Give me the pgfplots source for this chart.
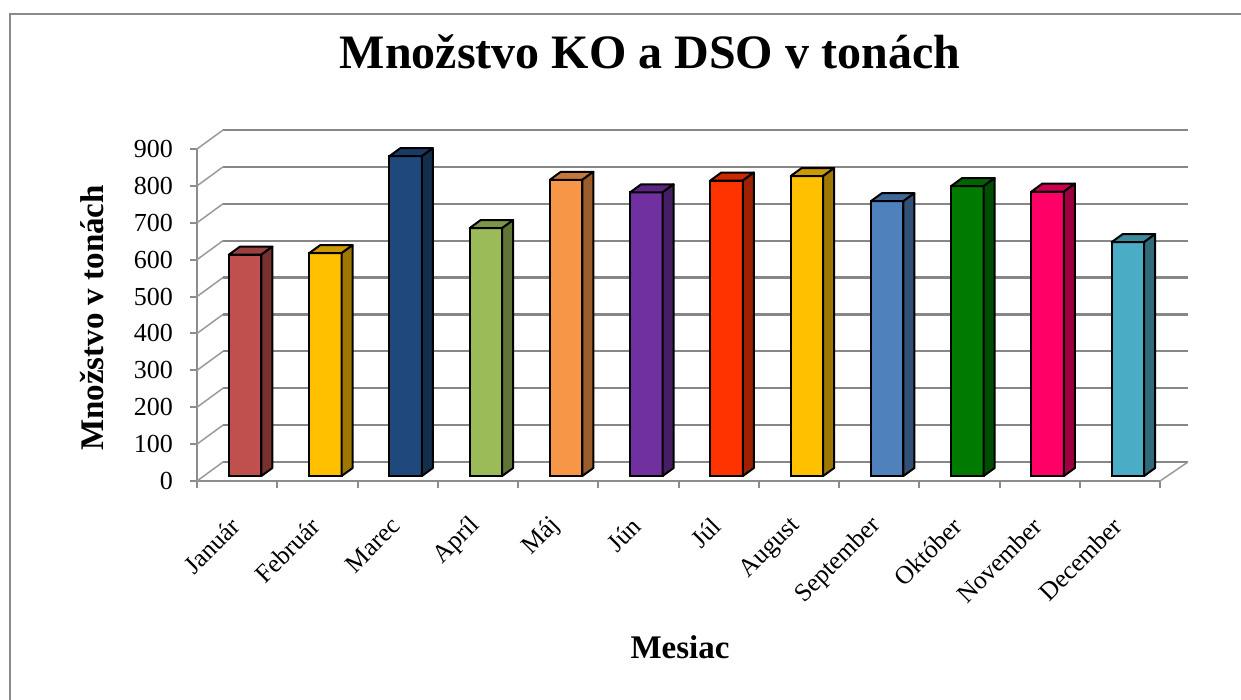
\documentclass[border=0pt]{standalone}
\usepackage{fontspec}
\setmainfont{Liberation Serif}
\usepackage{pgfplots}
\usepackage{pgfplotstable}
\pgfplotsset{compat=1.18}

\definecolor{axgray}{HTML}{8C8C8C}
\definecolor{gridgray}{HTML}{878787}
\definecolor{sidegray}{HTML}{9A9A9A}
\definecolor{framegray}{HTML}{8A8A8A}
\definecolor{cJan}{HTML}{C0504D}
\definecolor{cFeb}{HTML}{FFC000}
\definecolor{cMar}{HTML}{1F497D}
\definecolor{cApr}{HTML}{9BBB59}
\definecolor{cMaj}{HTML}{F79646}
\definecolor{cJun}{HTML}{7030A0}
\definecolor{cJul}{HTML}{FF3300}
\definecolor{cAug}{HTML}{FFC000}
\definecolor{cSep}{HTML}{4F81BD}
\definecolor{cOkt}{HTML}{007A00}
\definecolor{cNov}{HTML}{FF0066}
\definecolor{cDec}{HTML}{4BACC6}

% month (bar centre, 0.5 ... 11.5) and amount in tonnes
\pgfplotstableread{
x     y
0.5   600
1.5   604
2.5   867
3.5   672
4.5   803
5.5   769
6.5   801
7.5   813
8.5   745
9.5   786
10.5  771
11.5  634
}\datatable

% top and side faces of a 3D bar; origin = top centre of the front face
\pgfdeclareplotmark{box3d}{%
  \colorlet{barc}{.}%
  \pgfkeys{/pgf/fpu=true,/pgf/fpu/output format=fixed}%
  \pgfmathparse{\h*332/900}\let\barh\pgfmathresult
  \pgfkeys{/pgf/fpu=false}%
  \pgfsetlinewidth{2pt}\pgfsetroundjoin
  \pgfsetstrokecolor{black}%
  \pgfsetfillcolor{barc!80!black}%
  \pgfpathmoveto{\pgfqpoint{-16.25pt}{0pt}}%
  \pgfpathlineto{\pgfqpoint{-5.25pt}{8pt}}%
  \pgfpathlineto{\pgfqpoint{27.25pt}{8pt}}%
  \pgfpathlineto{\pgfqpoint{16.25pt}{0pt}}%
  \pgfpathclose
  \pgfusepath{fill,stroke}%
  \pgfsetfillcolor{barc!62!black}%
  \pgfpathmoveto{\pgfqpoint{16.25pt}{0pt}}%
  \pgfpathlineto{\pgfqpoint{27.25pt}{8pt}}%
  \pgfpathlineto{\pgfpoint{27.25pt}{8pt-\barh*1pt}}%
  \pgfpathlineto{\pgfpoint{16.25pt}{-\barh*1pt}}%
  \pgfpathclose
  \pgfusepath{fill,stroke}%
}

\pgfplotsset{
  bar3d/.style n args={2}{ybar, bar width=32.5pt, bar shift=0pt,
    fill=#1, draw=black, line width=2pt,
    restrict expr to domain={\coordindex}{#2:#2},
    scatter, scatter/@pre marker code/.code={}, scatter/@post marker code/.code={},
    mark=box3d, mark options={color=#1, solid},
    visualization depends on={y\as\h}},
}

\begin{document}
\begin{tikzpicture}
\useasboundingbox (0,0) rectangle (1241pt,700pt);
\draw[framegray, line width=2.5pt] (10pt,0pt) -- (10pt,686pt) -- (1241pt,686pt);

% back wall
\begin{axis}[at={(223pt,238pt)}, anchor=south west, scale only axis,
  width=965pt, height=332pt, xmin=0, xmax=12, ymin=0, ymax=900,
  ymajorgrids, ytick={0,100,...,900}, xtick=\empty, yticklabels={},
  major tick length=0pt, axis line style={draw=none},
  grid style={draw=gridgray, line width=2.2pt}]
\end{axis}

% front frame: axes, ticks, labels
\begin{axis}[at={(197pt,219pt)}, anchor=south west, scale only axis,
  width=963pt, height=332pt, xmin=0, xmax=12, ymin=0, ymax=900, clip=false,
  axis x line*=bottom, axis y line*=left,
  axis line style={draw=axgray, line width=2pt, -},
  xtick={0,...,12}, x tick label as interval,
  xticklabels={Január,Február,Marec,Apríl,Máj,Jún,Júl,August,September,Október,November,December},
  ytick={0,100,...,900},
  tick align=outside, major tick length=7pt,
  tick style={draw=axgray, line width=2pt},
  /pgf/number format/assume math mode=true,
  yticklabel style={font=\fontsize{26}{26}\selectfont, inner sep=0pt, xshift=-17pt},
  xticklabel style={font=\fontsize{25.5}{25.5}\selectfont, xshift=-2pt, yshift=-34pt, rotate=45, anchor=east, inner sep=0pt},
  title={Množstvo KO a DSO v tonách},
  title style={font=\bfseries\fontsize{48}{48}\selectfont, at={(axis description cs:0.4704,1.2244)}, anchor=base},
  ylabel={Množstvo v tonách},
  every axis y label/.style={font=\bfseries\fontsize{33}{33}\selectfont, at={(axis description cs:-0.0973,0.491)}, rotate=90, anchor=base},
  xlabel={Mesiac},
  every axis x label/.style={font=\bfseries\fontsize{33}{33}\selectfont, at={(axis description cs:0.5016,-0.536)}, anchor=base},
]
\pgfplotsinvokeforeach{0,100,...,900}{\draw[sidegray, line width=1.5pt] (axis cs:0,#1) -- ++(26pt,19pt);}
\draw[sidegray, line width=1.5pt] (axis cs:12,0) -- ++(28pt,19pt);
\end{axis}

% bars (front-face plane)
\begin{axis}[at={(205pt,224pt)}, anchor=south west, scale only axis,
  width=963pt, height=332pt, xmin=0, xmax=12, ymin=0, ymax=900,
  hide axis, clip=false]
\addplot[bar3d={cJan}{0}]  table[x=x,y=y] {\datatable};
\addplot[bar3d={cFeb}{1}]  table[x=x,y=y] {\datatable};
\addplot[bar3d={cMar}{2}]  table[x=x,y=y] {\datatable};
\addplot[bar3d={cApr}{3}]  table[x=x,y=y] {\datatable};
\addplot[bar3d={cMaj}{4}]  table[x=x,y=y] {\datatable};
\addplot[bar3d={cJun}{5}]  table[x=x,y=y] {\datatable};
\addplot[bar3d={cJul}{6}]  table[x=x,y=y] {\datatable};
\addplot[bar3d={cAug}{7}]  table[x=x,y=y] {\datatable};
\addplot[bar3d={cSep}{8}]  table[x=x,y=y] {\datatable};
\addplot[bar3d={cOkt}{9}]  table[x=x,y=y] {\datatable};
\addplot[bar3d={cNov}{10}] table[x=x,y=y] {\datatable};
\addplot[bar3d={cDec}{11}] table[x=x,y=y] {\datatable};
\end{axis}
\end{tikzpicture}
\end{document}
